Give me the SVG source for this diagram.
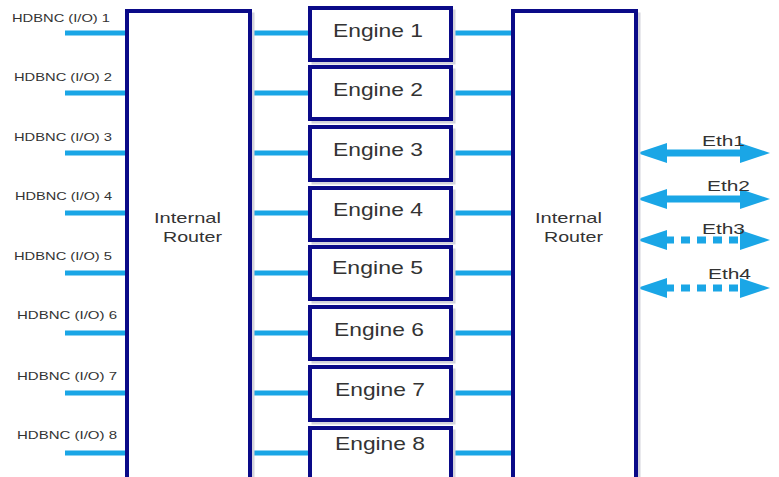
<svg xmlns="http://www.w3.org/2000/svg" width="779" height="477" viewBox="0 0 779 477">
<style>
.box{fill:#ffffff;stroke:#0a0a88;stroke-width:4}
.shadow{fill:none;stroke:#d4d4dc;stroke-width:3}
.wire{stroke:#1aa6e6;stroke-width:5;fill:none}
.eth{stroke:#1aa6e6;stroke-width:7;fill:none}
.dash{stroke-dasharray:9 7}
.lbl{font-family:"Liberation Sans",Arial,sans-serif;font-size:11px;fill:#333333}
.eng{font-family:"Liberation Sans",Arial,sans-serif;font-size:19px;fill:#333333}
.rt{font-family:"Liberation Sans",Arial,sans-serif;font-size:15px;fill:#333333}
.et{font-family:"Liberation Sans",Arial,sans-serif;font-size:15px;fill:#333333}
</style>
<defs>
<marker id="ah" viewBox="0 0 30 20" refX="2" refY="10" markerWidth="30" markerHeight="20" markerUnits="userSpaceOnUse" orient="auto-start-reverse">
<path d="M0,0 L30,10 L0,20 Z" fill="#1aa6e6"/>
</marker>
</defs>
<rect width="779" height="477" fill="#ffffff"/>
<g id="connectors">
<line class="wire" x1="65" y1="33" x2="127" y2="33"/>
<line class="wire" x1="65" y1="93" x2="127" y2="93"/>
<line class="wire" x1="65" y1="153" x2="127" y2="153"/>
<line class="wire" x1="65" y1="213" x2="127" y2="213"/>
<line class="wire" x1="65" y1="273" x2="127" y2="273"/>
<line class="wire" x1="65" y1="333" x2="127" y2="333"/>
<line class="wire" x1="65" y1="393" x2="127" y2="393"/>
<line class="wire" x1="65" y1="453" x2="127" y2="453"/>
<line class="wire" x1="250" y1="33" x2="310" y2="33"/>
<line class="wire" x1="250" y1="93" x2="310" y2="93"/>
<line class="wire" x1="250" y1="153" x2="310" y2="153"/>
<line class="wire" x1="250" y1="213" x2="310" y2="213"/>
<line class="wire" x1="250" y1="273" x2="310" y2="273"/>
<line class="wire" x1="250" y1="333" x2="310" y2="333"/>
<line class="wire" x1="250" y1="393" x2="310" y2="393"/>
<line class="wire" x1="250" y1="453" x2="310" y2="453"/>
<line class="wire" x1="451" y1="33" x2="513" y2="33"/>
<line class="wire" x1="451" y1="93" x2="513" y2="93"/>
<line class="wire" x1="451" y1="153" x2="513" y2="153"/>
<line class="wire" x1="451" y1="213" x2="513" y2="213"/>
<line class="wire" x1="451" y1="273" x2="513" y2="273"/>
<line class="wire" x1="451" y1="333" x2="513" y2="333"/>
<line class="wire" x1="451" y1="393" x2="513" y2="393"/>
<line class="wire" x1="451" y1="453" x2="513" y2="453"/>
<line class="eth" x1="665" y1="153" x2="742" y2="153" marker-start="url(#ah)" marker-end="url(#ah)"/>
<line class="eth" x1="665" y1="199" x2="742" y2="199" marker-start="url(#ah)" marker-end="url(#ah)"/>
<line class="eth dash" x1="665" y1="240" x2="742" y2="240" marker-start="url(#ah)" marker-end="url(#ah)"/>
<line class="eth dash" x1="665" y1="288" x2="742" y2="288" marker-start="url(#ah)" marker-end="url(#ah)"/>
</g>
<g id="io-labels">
<text class="lbl" x="12" y="22" textLength="98" lengthAdjust="spacingAndGlyphs">HDBNC (I/O) 1</text>
<text class="lbl" x="14" y="81" textLength="98" lengthAdjust="spacingAndGlyphs">HDBNC (I/O) 2</text>
<text class="lbl" x="14" y="141" textLength="98" lengthAdjust="spacingAndGlyphs">HDBNC (I/O) 3</text>
<text class="lbl" x="15" y="200" textLength="97" lengthAdjust="spacingAndGlyphs">HDBNC (I/O) 4</text>
<text class="lbl" x="14" y="260" textLength="98" lengthAdjust="spacingAndGlyphs">HDBNC (I/O) 5</text>
<text class="lbl" x="17" y="319" textLength="100" lengthAdjust="spacingAndGlyphs">HDBNC (I/O) 6</text>
<text class="lbl" x="17" y="380" textLength="100" lengthAdjust="spacingAndGlyphs">HDBNC (I/O) 7</text>
<text class="lbl" x="17" y="439" textLength="100" lengthAdjust="spacingAndGlyphs">HDBNC (I/O) 8</text>
</g>
<g id="router-left">
<rect class="shadow" x="130" y="14" width="123" height="480"/>
<rect class="box" x="127" y="11" width="123" height="480"/>
<text class="rt" x="154" y="223" textLength="67" lengthAdjust="spacingAndGlyphs">Internal</text>
<text class="rt" x="163" y="242" textLength="59" lengthAdjust="spacingAndGlyphs">Router</text>
</g>
<g id="router-right">
<rect class="shadow" x="516" y="14" width="123" height="480"/>
<rect class="box" x="513" y="11" width="123" height="480"/>
<text class="rt" x="535" y="223" textLength="67" lengthAdjust="spacingAndGlyphs">Internal</text>
<text class="rt" x="544" y="242" textLength="59" lengthAdjust="spacingAndGlyphs">Router</text>
</g>
<g id="engine-1"><rect class="shadow" x="313" y="11" width="141" height="52"/><rect class="box" x="310" y="8" width="141" height="52"/><text class="eng" x="333" y="37" textLength="90" lengthAdjust="spacingAndGlyphs">Engine 1</text></g>
<g id="engine-2"><rect class="shadow" x="313" y="70" width="141" height="52"/><rect class="box" x="310" y="67" width="141" height="52"/><text class="eng" x="333" y="96" textLength="90" lengthAdjust="spacingAndGlyphs">Engine 2</text></g>
<g id="engine-3"><rect class="shadow" x="313" y="130" width="141" height="53"/><rect class="box" x="310" y="127" width="141" height="53"/><text class="eng" x="333" y="156" textLength="90" lengthAdjust="spacingAndGlyphs">Engine 3</text></g>
<g id="engine-4"><rect class="shadow" x="313" y="191" width="141" height="52"/><rect class="box" x="310" y="188" width="141" height="52"/><text class="eng" x="333" y="216" textLength="90" lengthAdjust="spacingAndGlyphs">Engine 4</text></g>
<g id="engine-5"><rect class="shadow" x="313" y="250" width="141" height="52"/><rect class="box" x="310" y="247" width="141" height="52"/><text class="eng" x="332" y="274" textLength="91" lengthAdjust="spacingAndGlyphs">Engine 5</text></g>
<g id="engine-6"><rect class="shadow" x="313" y="310" width="141" height="52"/><rect class="box" x="310" y="307" width="141" height="52"/><text class="eng" x="334" y="336" textLength="90" lengthAdjust="spacingAndGlyphs">Engine 6</text></g>
<g id="engine-7"><rect class="shadow" x="313" y="370" width="141" height="53"/><rect class="box" x="310" y="367" width="141" height="53"/><text class="eng" x="335" y="396" textLength="90" lengthAdjust="spacingAndGlyphs">Engine 7</text></g>
<g id="engine-8"><rect class="shadow" x="313" y="431" width="141" height="60"/><rect class="box" x="310" y="428" width="141" height="60"/><text class="eng" x="335" y="450" textLength="90" lengthAdjust="spacingAndGlyphs">Engine 8</text></g>
<g id="eth-labels">
<text class="et" x="702" y="146" textLength="43" lengthAdjust="spacingAndGlyphs">Eth1</text>
<text class="et" x="707" y="191" textLength="43" lengthAdjust="spacingAndGlyphs">Eth2</text>
<text class="et" x="702" y="234" textLength="43" lengthAdjust="spacingAndGlyphs">Eth3</text>
<text class="et" x="708" y="279" textLength="43" lengthAdjust="spacingAndGlyphs">Eth4</text>
</g>
</svg>
